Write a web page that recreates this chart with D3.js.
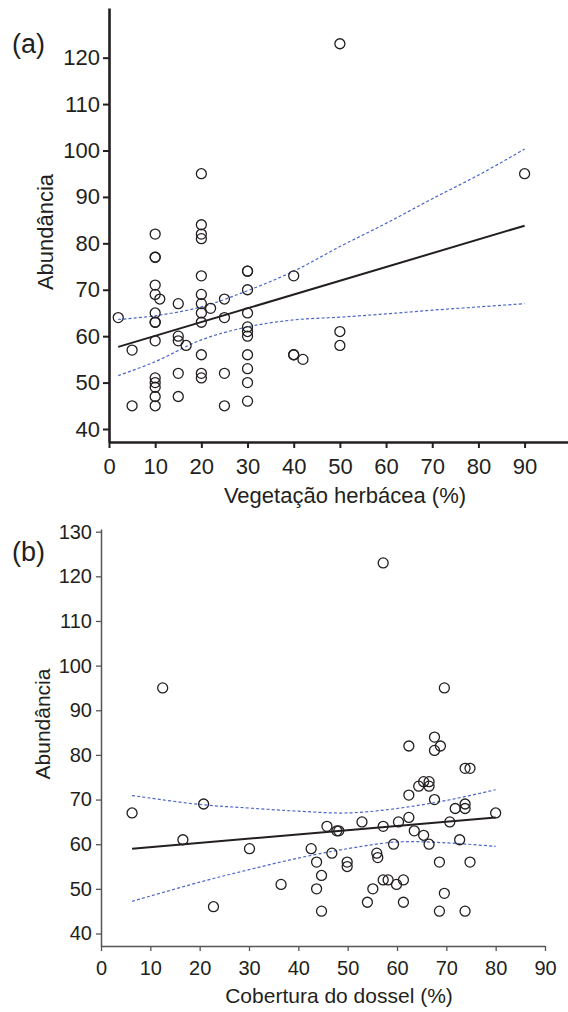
<!DOCTYPE html>
<html>
<head>
<meta charset="utf-8">
<script src="https://cdn.jsdelivr.net/npm/d3@7"></script>
<style>
  body { margin: 0; background: #fff; }
  svg { display: block; font-family: "Liberation Sans", Arial, sans-serif; }
</style>
</head>
<body>
<svg width="568" height="1012"></svg>
<script>
// panel (a): herbaceous vegetation (%) vs abundance
const herbX = [2, 5, 5,
  10, 10, 10, 10, 10, 10, 10, 10, 10, 10, 10, 10, 10, 10,
  11, 15, 15, 15, 15, 15, 16.7,
  20, 20, 20, 20, 20, 20, 20, 20, 20, 20, 20, 20,
  22, 25, 25, 25, 25,
  30, 30, 30, 30, 30, 30, 30, 30, 30, 30, 30,
  40, 40, 40, 42, 50, 50, 50, 90];
const herbAbund = [64, 57, 45,
  82, 77, 77, 71, 69, 65, 63, 63, 59, 51, 50, 49, 47, 45,
  68, 67, 60, 59, 52, 47, 58,
  95, 84, 82, 81, 73, 69, 67, 65, 63, 56, 52, 51,
  66, 68, 64, 52, 45,
  74, 74, 70, 65, 62, 61, 60, 56, 53, 50, 46,
  73, 56, 56, 55, 123, 61, 58, 95];
const herbFitX = [2, 90];
const herbFitY = [57.7, 83.8];
const herbCiX = [2, 10, 20, 30, 40, 50, 60, 70, 80, 90];
const herbCiUpper = [63.6, 64.4, 66.3, 69.8, 74, 79.3, 84.3, 89.6, 94.7, 100.3];
const herbCiLower = [51.5, 54.5, 59.2, 62, 63.5, 64.1, 64.8, 65.6, 66.3, 67];

// panel (b): canopy cover (%) vs abundance
const canopyX = [6.3, 12.5, 16.6, 20.8, 22.8, 30.1, 36.5,
  42.6, 43.7, 43.7, 44.7, 44.7, 45.8, 46.8, 47.8, 48.2, 49.9, 49.9,
  52.9, 54, 55.1, 55.9, 56.1, 57.2, 57.2, 57.2, 58.2, 59.3, 59.9, 60.3, 61.3, 61.3,
  62.4, 62.4, 62.4, 63.5, 64.4, 65.4, 65.4, 66.5, 66.5, 66.5, 67.6, 67.6, 67.6,
  68.6, 68.6, 68.8, 69.6, 69.6, 70.7, 71.8, 72.7, 73.8, 73.8, 73.8, 73.8, 74.8, 74.8, 80];
const canopyAbund = [67, 95, 61, 69, 46, 59, 51,
  59, 56, 50, 53, 45, 64, 58, 63, 63, 56, 55,
  65, 47, 50, 58, 57, 123, 64, 52, 52, 60, 51, 65, 52, 47,
  82, 71, 66, 63, 73, 74, 62, 74, 73, 60, 84, 81, 70,
  56, 45, 82, 95, 49, 65, 68, 61, 77, 69, 68, 45, 77, 56, 67];
const canopyFitX = [6.3, 80];
const canopyFitY = [59.0, 66.0];
const canopyCiX = [6.3, 20, 30, 40, 50, 60, 70, 80];
const canopyCiUpper = [70.9, 68.9, 68.1, 67.4, 67.0, 68.0, 69.8, 72.2];
const canopyCiLower = [47.2, 51.5, 54.3, 56.9, 59.0, 60.5, 60.3, 59.5];

const xTicks = [0, 10, 20, 30, 40, 50, 60, 70, 80, 90];
const yTicksA = [40, 50, 60, 70, 80, 90, 100, 110, 120];
const yTicksB = [40, 50, 60, 70, 80, 90, 100, 110, 120, 130];

const ink = "#231f20";
const blue = "#4a67c8";
const svg = d3.select("svg");
svg.append("rect").attr("width", 568).attr("height", 1012).attr("fill", "#fff");

function drawPanel(p) {
  const g = svg.append("g");
  const x = d3.scaleLinear().domain(p.xDomain).range(p.xRange);
  const y = d3.scaleLinear().domain(p.yDomain).range(p.yRange);

  // axes
  const xAxis = g.append("g")
    .attr("transform", `translate(0, ${p.yRange[0]})`)
    .call(d3.axisBottom(x).tickValues(xTicks).tickSize(p.tick).tickSizeOuter(0).tickPadding(p.xPad));
  const yAxis = g.append("g")
    .attr("transform", `translate(${p.xRange[0]}, 0)`)
    .call(d3.axisLeft(y).tickValues(p.yTicks).tickSize(p.tick).tickSizeOuter(0).tickPadding(p.yPad));
  [xAxis, yAxis].forEach(a => {
    a.select(".domain").attr("stroke", p.axisColor).attr("stroke-width", p.axisWidth);
    a.selectAll(".tick line").attr("stroke", p.axisColor).attr("stroke-width", p.tickWidth);
    a.selectAll(".tick text").attr("fill", ink).style("font-size", p.tickFont + "px")
      .style("font-family", '"Liberation Sans", Arial, sans-serif');
  });

  // confidence band (dashed)
  const ci = d3.line().x(d => x(d[0])).y(d => y(d[1])).curve(d3.curveCatmullRom);
  [p.ciUpper, p.ciLower].forEach(arr => {
    g.append("path")
      .datum(p.ciX.map((v, i) => [v, arr[i]]))
      .attr("d", ci)
      .attr("fill", "none")
      .attr("stroke", blue)
      .attr("stroke-width", 1.2)
      .attr("stroke-dasharray", "3,2.2");
  });

  // fitted line
  g.append("path")
    .datum(p.fitX.map((v, i) => [v, p.fitY[i]]))
    .attr("d", d3.line().x(d => x(d[0])).y(d => y(d[1])))
    .attr("fill", "none")
    .attr("stroke", ink)
    .attr("stroke-width", 2);

  // points
  g.selectAll("circle.pt")
    .data(p.xs.map((v, i) => [v, p.ys[i]]))
    .enter().append("circle")
      .attr("class", "pt")
      .attr("cx", d => x(d[0]))
      .attr("cy", d => y(d[1]))
      .attr("r", 5)
      .attr("fill", "none")
      .attr("stroke", ink)
      .attr("stroke-width", 1.3);

  // titles
  g.append("text")
    .attr("x", p.xTitlePos[0]).attr("y", p.xTitlePos[1])
    .attr("text-anchor", "middle").attr("fill", ink)
    .style("font-size", p.titleFont + "px")
    .text(p.xTitle);
  g.append("text")
    .attr("transform", `translate(${p.yTitlePos[0]}, ${p.yTitlePos[1]}) rotate(-90)`)
    .attr("text-anchor", "middle").attr("fill", ink)
    .style("font-size", p.titleFont + "px")
    .text("Abundância");
  g.append("text")
    .attr("x", p.tagPos[0]).attr("y", p.tagPos[1])
    .attr("fill", ink)
    .style("font-size", "27px")
    .text(p.tag);
}

drawPanel({
  xs: herbX, ys: herbAbund,
  fitX: herbFitX, fitY: herbFitY,
  ciX: herbCiX, ciUpper: herbCiUpper, ciLower: herbCiLower,
  xDomain: [0, 99.4], xRange: [109, 568],
  yDomain: [37.2, 130.7], yRange: [442, 8],
  yTicks: yTicksA,
  tick: 6, xPad: 10, yPad: 3,
  axisColor: ink, axisWidth: 2.6, tickWidth: 2,
  tickFont: 22, titleFont: 22,
  xTitle: "Vegetação herbácea (%)", xTitlePos: [345, 503],
  yTitlePos: [53, 232],
  tag: "(a)", tagPos: [12, 53]
});

drawPanel({
  xs: canopyX, ys: canopyAbund,
  fitX: canopyFitX, fitY: canopyFitY,
  ciX: canopyCiX, ciUpper: canopyCiUpper, ciLower: canopyCiLower,
  xDomain: [0, 90], xRange: [101, 545],
  yDomain: [37.2, 130.6], yRange: [946, 529],
  yTicks: yTicksB,
  tick: 5, xPad: 10, yPad: 4,
  axisColor: "#555", axisWidth: 1.5, tickWidth: 1.3,
  tickFont: 20, titleFont: 21,
  xTitle: "Cobertura do dossel (%)", xTitlePos: [339, 1003],
  yTitlePos: [50, 724],
  tag: "(b)", tagPos: [12, 561]
});
</script>
</body>
</html>
